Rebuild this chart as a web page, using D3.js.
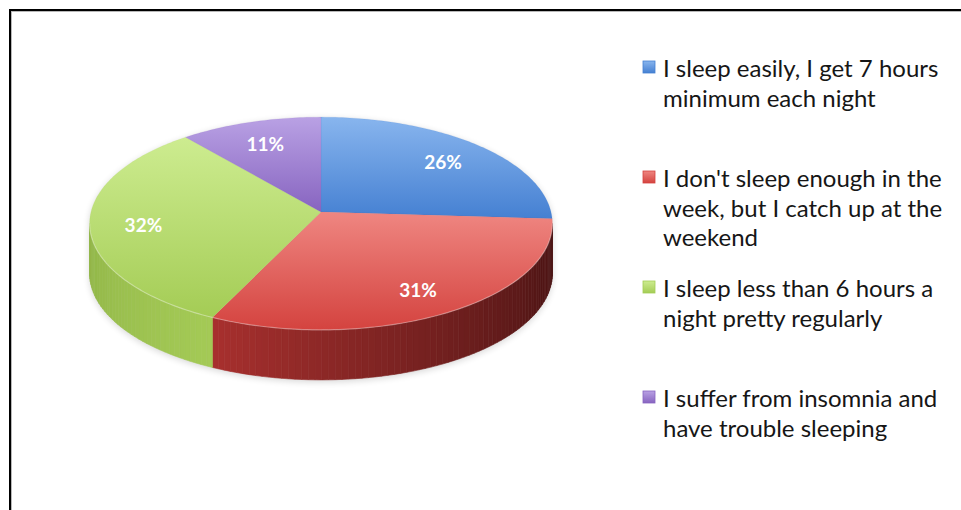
<!DOCTYPE html>
<html>
<head>
<meta charset="utf-8">
<script src="https://cdn.jsdelivr.net/npm/d3@7"></script>
<style>
  html, body { margin: 0; padding: 0; background: #fff; }
  svg { display: block; }
</style>
</head>
<body>
<svg id="chart" width="961" height="510"></svg>
<script>
// Survey answers, in drawing order (clockwise from 12 o'clock)
const categories = [
  "I sleep easily, I get 7 hours\nminimum each night",
  "I don't sleep enough in the\nweek, but I catch up at the\nweekend",
  "I sleep less than 6 hours a\nnight pretty regularly",
  "I suffer from insomnia and\nhave trouble sleeping"
];
const values = [26, 31, 32, 11];
const valueLabels = ["26%", "31%", "32%", "11%"];

// Palette: top-face gradient (light -> dark) and side-wall shading (lit -> shadowed)
const topLight  = ["#88b5ee", "#ef8681", "#cdec90", "#b9a1e4"];
const topDark   = ["#4580d2", "#d4433f", "#a4cc55", "#8764c0"];
const sideLight = ["#3d70b8", "#a8302e", "#a4ca56", "#7a5aae"];
const sideDark  = ["#1e3c6a", "#4a1414", "#6e902e", "#3e2a60"];

const W = 961, H = 510;
const svg = d3.select("#chart");
const defs = svg.append("defs");

// ---- perspective camera for the top of the disc ----
const hub = { x: 321, y: 212 };      // screen position of the pie centre
const focal = 1893;                   // focal length in px
const camDist = 8.23;                 // camera distance (in disc radii)
const elev = 27.2 * Math.PI / 180;    // viewing elevation
const wallPx = 50;                    // screen height of the rim

function project(a, r) {
  const X = r * Math.sin(a), Y = r * Math.cos(a);
  const dist = camDist + Y * Math.cos(elev);
  return [hub.x + focal * X / dist, hub.y - focal * Y * Math.sin(elev) / dist];
}
const drop = p => [p[0], p[1] + wallPx];

const pie = d3.pie().sort(null).value(d => d)(values);
const step = Math.PI / 180;

function arcPoints(a0, a1, r) {
  const n = Math.max(2, Math.ceil((a1 - a0) / step));
  return d3.range(n + 1).map(i => project(a0 + (a1 - a0) * i / n, r));
}

// angles of the left / right silhouette of the top ellipse
const samples = d3.range(0, 360, 0.25).map(d => d * step);
const visA0 = samples.filter(a => a < Math.PI).reduce((b, a) => project(a, 1)[0] > project(b, 1)[0] ? a : b);
const visA1 = samples.filter(a => a > Math.PI).reduce((b, a) => project(a, 1)[0] < project(b, 1)[0] ? a : b);

// Side-wall lighting: brightest toward the front-left, darker to the right
function sideShade(a) {
  const deg = a * 180 / Math.PI;
  if (deg <= 205) return Math.pow(Math.max(0, (deg - 95) / 110), 1.3);
  return 1 - 0.35 * Math.min(1, (deg - 205) / 60);
}

const line = d3.line();

// ---- soft shadow under the disc ----
defs.append("filter").attr("id", "soft").attr("x", "-20%").attr("y", "-20%").attr("width", "140%").attr("height", "140%")
  .append("feGaussianBlur").attr("stdDeviation", 3.5);
const outline = arcPoints(visA1 - 2 * Math.PI, visA0, 1)
  .concat(arcPoints(visA0, visA1, 1).map(drop));
svg.append("path").attr("d", line(outline) + "Z")
  .attr("fill", "#000").attr("opacity", 0.16).attr("filter", "url(#soft)")
  .attr("transform", "translate(0,2)");

// ---- side walls (front-facing part of the rim) ----
const walls = svg.append("g");
pie.forEach((p, i) => {
  const a0 = Math.max(p.startAngle, visA0), a1 = Math.min(p.endAngle, visA1);
  if (a1 <= a0) return;
  const n = Math.max(1, Math.ceil((a1 - a0) / (1.5 * step)));
  const col = d3.interpolateRgb(sideDark[i], sideLight[i]);
  for (let k = 0; k < n; k++) {
    const s = a0 + (a1 - a0) * k / n;
    const e = a0 + (a1 - a0) * (k + 1) / n;
    const ps = project(s, 1), pe = project(e, 1);
    const c = col(sideShade((s + e) / 2));
    walls.append("path").attr("d", line([ps, pe, drop(pe), drop(ps)]) + "Z")
      .attr("fill", c).attr("stroke", c).attr("stroke-width", 0.6);
  }
});

// ---- top faces ----
pie.forEach((p, i) => {
  const g = defs.append("linearGradient").attr("id", "top" + i)
    .attr("x1", 0).attr("y1", 0).attr("x2", 0).attr("y2", 1);
  g.append("stop").attr("offset", "0%").attr("stop-color", topLight[i]);
  g.append("stop").attr("offset", "100%").attr("stop-color", topDark[i]);
});
const tops = svg.append("g");
pie.forEach((p, i) => {
  const pts = [[hub.x, hub.y]].concat(arcPoints(p.startAngle, p.endAngle, 1));
  tops.append("path").attr("d", line(pts) + "Z")
    .attr("fill", `url(#top${i})`)
    .attr("stroke", topDark[i]).attr("stroke-opacity", 0.25).attr("stroke-width", 0.5);
});

// light rim along the front edge of the top
svg.append("path")
  .attr("d", line(arcPoints(visA0, visA1, 1)))
  .attr("fill", "none").attr("stroke", "#fff").attr("stroke-opacity", 0.35).attr("stroke-width", 1.2);

// ---- value labels ----
const labelR = 0.77;
svg.append("g").selectAll("text").data(pie).join("text")
  .attr("x", d => project((d.startAngle + d.endAngle) / 2, labelR)[0])
  .attr("y", d => project((d.startAngle + d.endAngle) / 2, labelR)[1])
  .attr("dy", "0.5em")
  .attr("text-anchor", "middle")
  .attr("font-family", "Lato, 'Open Sans', sans-serif").attr("font-weight", 700)
  .attr("font-size", 19).attr("fill", "#fff")
  .text((d, i) => valueLabels[i]);

// ---- legend ----
const legendX = 643, legendTextX = 663, legendY0 = 77, legendStep = 110, lineH = 29.5;
categories.forEach((c, i) => {
  const g = defs.append("linearGradient").attr("id", "key" + i)
    .attr("x1", 0).attr("y1", 0).attr("x2", 0).attr("y2", 1);
  g.append("stop").attr("offset", "0%").attr("stop-color", topLight[i]);
  g.append("stop").attr("offset", "100%").attr("stop-color", topDark[i]);
});
const legend = svg.append("g");
categories.forEach((c, i) => {
  const by = legendY0 + i * legendStep;
  legend.append("rect").attr("x", legendX).attr("y", by - 16).attr("width", 12).attr("height", 12)
    .attr("fill", `url(#key${i})`).attr("stroke", topDark[i]).attr("stroke-width", 0.8);
  const t = legend.append("text")
    .attr("font-family", "Lato, 'Open Sans', sans-serif").attr("font-size", 24).attr("fill", "#161616");
  c.split("\n").forEach((ln, j) => {
    t.append("tspan").attr("x", legendTextX).attr("y", by + j * lineH).text(ln);
  });
});

// ---- frame ----
svg.append("rect").attr("x", 10).attr("y", 10).attr("width", W + 20).attr("height", H + 20)
  .attr("fill", "none").attr("stroke", "#000").attr("stroke-width", 2);
svg.append("rect").attr("x", 11.5).attr("y", 11.5).attr("width", W + 20).attr("height", H + 20)
  .attr("fill", "none").attr("stroke", "#b8b8b8").attr("stroke-width", 1);
</script>
</body>
</html>
